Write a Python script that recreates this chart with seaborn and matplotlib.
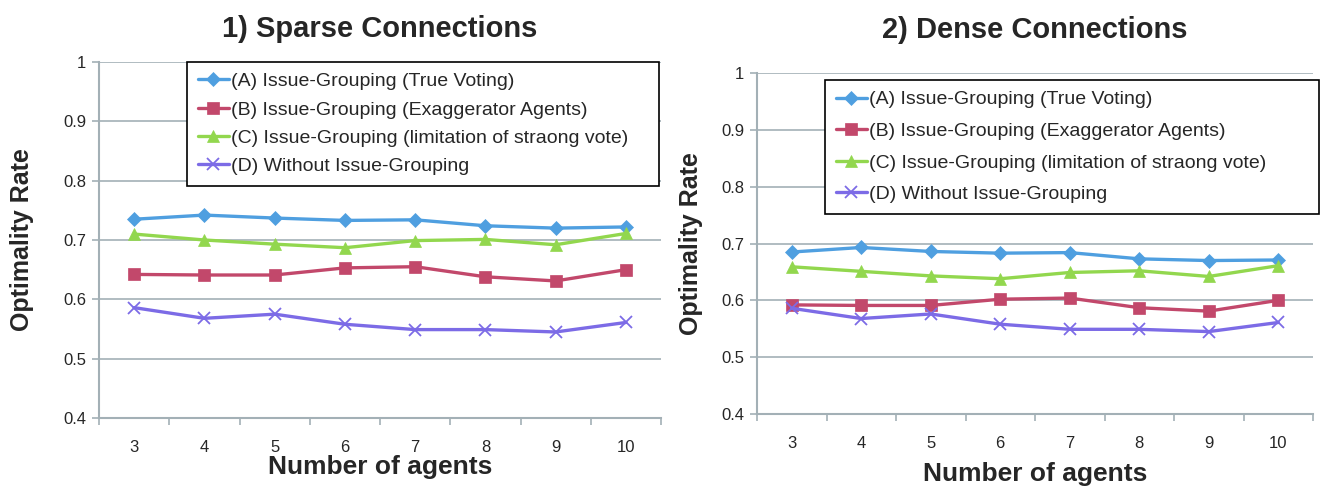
import pandas as pd
import seaborn as sns
import matplotlib.pyplot as plt
from matplotlib.ticker import FixedLocator

agents = [3, 4, 5, 6, 7, 8, 9, 10]
labels = ["(A) Issue-Grouping (True Voting)",
          "(B) Issue-Grouping (Exaggerator Agents)",
          "(C) Issue-Grouping (limitation of straong vote)",
          "(D) Without Issue-Grouping"]

# 1) sparse connections
sparse_a = [0.735, 0.742, 0.737, 0.733, 0.734, 0.724, 0.720, 0.722]
sparse_b = [0.642, 0.641, 0.641, 0.653, 0.655, 0.638, 0.631, 0.650]
sparse_c = [0.710, 0.700, 0.693, 0.687, 0.699, 0.701, 0.692, 0.711]
sparse_d = [0.586, 0.568, 0.575, 0.558, 0.549, 0.549, 0.545, 0.561]

# 2) dense connections
dense_a = [0.685, 0.693, 0.686, 0.683, 0.684, 0.673, 0.670, 0.671]
dense_b = [0.592, 0.591, 0.591, 0.602, 0.604, 0.587, 0.581, 0.600]
dense_c = [0.659, 0.651, 0.643, 0.638, 0.649, 0.652, 0.642, 0.661]
dense_d = [0.586, 0.568, 0.576, 0.558, 0.549, 0.549, 0.545, 0.561]

colors = ["#4f9fe0", "#c2486b", "#92d74e", "#7c6be6"]
markers = ["D", "s", "^", "x"]
msizes = [7, 9, 8, 8]

sns.set_style("white")
plt.rcParams['font.family'] = ['Liberation Sans', 'DejaVu Sans']

grid_col = "#a3b0b6"

fig = plt.figure(figsize=(13.2, 4.88), dpi=100)
ax1 = fig.add_axes([99 / 1320, 1 - 418 / 488, 562 / 1320, 356 / 488])
ax2 = fig.add_axes([757 / 1320, 1 - 414 / 488, 556 / 1320, 341 / 488])


def draw(ax, series, title, leg_box, lspace, ypad, tpad, xpad):
    for vals, lab, c, m, ms in zip(series, labels, colors, markers, msizes):
        df = pd.DataFrame({"agents": agents, "rate": vals})
        sns.lineplot(data=df, x="agents", y="rate", ax=ax, color=c, marker=m,
                     markersize=ms, linewidth=2.4, label=lab,
                     markeredgecolor=c, markeredgewidth=1.3 if m == "x" else 0.5)
    ax.set_xlim(2.5, 10.5)
    ax.set_ylim(0.4, 1.0)
    ax.set_yticks([0.4, 0.5, 0.6, 0.7, 0.8, 0.9, 1.0])
    ax.set_yticklabels(["0.4", "0.5", "0.6", "0.7", "0.8", "0.9", "1"])
    ax.set_xticks(agents)
    ax.xaxis.set_minor_locator(FixedLocator([x + 0.5 for x in [2] + agents]))
    ax.tick_params(axis="x", which="major", length=0, pad=16, labelsize=12)
    ax.tick_params(axis="x", which="minor", length=5, color=grid_col, width=1.2,
                   direction="out", bottom=True)
    ax.tick_params(axis="y", length=5, color=grid_col, width=1.2, left=True,
                   direction="out", labelsize=12, pad=4)
    ax.grid(axis="y", color=grid_col, linewidth=1.2)
    ax.grid(axis="x", visible=False)
    for s in ["top", "right"]:
        ax.spines[s].set_visible(False)
    for s in ["left", "bottom"]:
        ax.spines[s].set_color(grid_col)
        ax.spines[s].set_linewidth(1.5)
    ax.set_xlabel("Number of agents", fontsize=19, fontweight="bold",
                  labelpad=xpad)
    ax.set_ylabel("Optimality Rate", fontsize=18, fontweight="bold",
                  labelpad=ypad)
    ax.set_title(title, fontsize=21, fontweight="bold", pad=tpad)
    leg = ax.legend(loc="upper left", bbox_to_anchor=leg_box, mode="expand",
                    fontsize=14, frameon=True, fancybox=False, handlelength=1.6,
                    handletextpad=0.1, labelspacing=lspace, borderaxespad=0,
                    borderpad=0.55)
    leg.get_frame().set_edgecolor("black")
    leg.get_frame().set_linewidth(1.2)
    leg.get_frame().set_alpha(1)


draw(ax1, [sparse_a, sparse_b, sparse_c, sparse_d], "1) Sparse Connections",
     (0.157, 0.674, 0.839, 0.326), 0.55, 21, 18, 0)
draw(ax2, [dense_a, dense_b, dense_c, dense_d], "2) Dense Connections",
     (0.122, 0.604, 0.889, 0.375), 0.72, 13, 25, 8)

fig.savefig("out.png", dpi=100)
